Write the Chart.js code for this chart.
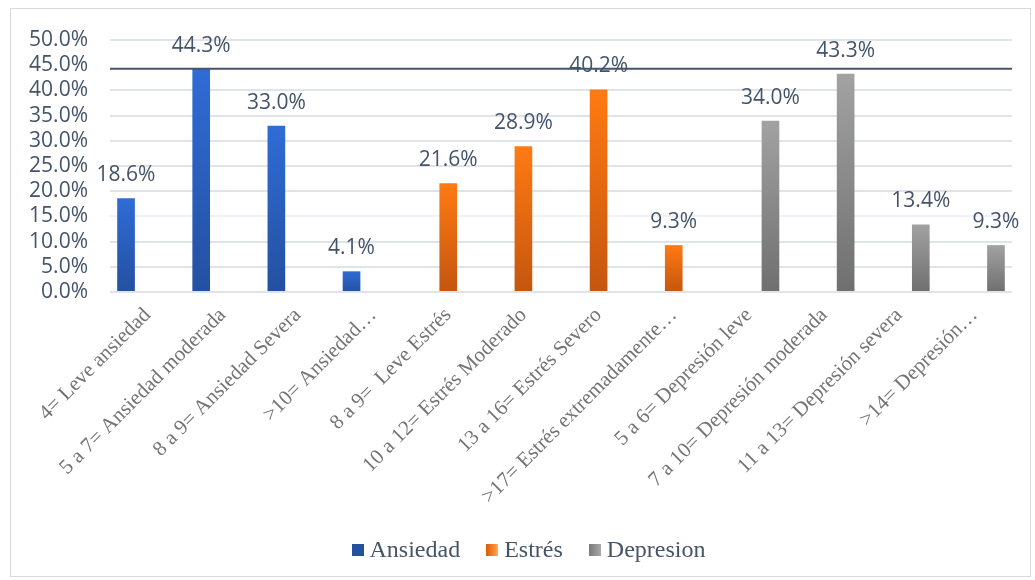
<!DOCTYPE html>
<html>
<head>
<meta charset="utf-8">
<script src="https://cdn.jsdelivr.net/npm/chart.js@4/dist/chart.umd.min.js"></script>
<style>
  html, body { margin: 0; padding: 0; background: #fff; }
  #wrap { width: 1035px; height: 580px; position: relative; }
  #legend {
    position: absolute; left: 0; right: 0; top: 533px; padding-left: 22px;
    text-align: center; font-family: "Liberation Serif", serif; font-size: 24px;
    color: #44546a; line-height: 32px; white-space: nowrap;
  }
  #legend span.item { display: inline-block; margin: 0 13px; }
  #legend span.box { display: inline-block; width: 12px; height: 12px; margin-right: 6px; vertical-align: 1px; }
</style>
</head>
<body>
<div id="wrap"><canvas id="chart"></canvas><div id="legend"></div></div>
<script>
const categories = [
    '4= Leve ansiedad', '5 a 7= Ansiedad moderada', '8 a 9= Ansiedad Severa', '>10= Ansiedad…',
    '8 a 9=  Leve Estrés', '10 a 12= Estrés Moderado', '13 a 16= Estrés Severo', '>17= Estrés extremadamente…',
    '5 a 6= Depresión leve', '7 a 10= Depresión moderada', '11 a 13= Depresión severa', '>14= Depresión…'
];
const ansiedad = [18.6, 44.3, 33.0, 4.1, null, null, null, null, null, null, null, null];
const estres = [null, null, null, null, 21.6, 28.9, 40.2, 9.3, null, null, null, null];
const depresion = [null, null, null, null, null, null, null, null, 34.0, 43.3, 13.4, 9.3];
const seriesNames = ['Ansiedad', 'Estrés', 'Depresion'];
const refLine = 44.3;   // dark horizontal line drawn across the plot

const textColor = '#44546a';
const barColors = [
    ['#2f6cd6', '#2450a0'],
    ['#ff7a12', '#c4560f'],
    ['#a2a2a2', '#6f6f6f'],
];

// vertical gradient per bar, lighter at the top
function barFill(top, bottom) {
    return function(context) {
        const chart = context.chart;
        const v = context.raw;
        if (!chart.chartArea || v == null || context.type !== 'data') {
            return bottom;
        }
        const y = chart.scales.y;
        const g = chart.ctx.createLinearGradient(0, y.getPixelForValue(v), 0, y.getPixelForValue(0));
        g.addColorStop(0, top);
        g.addColorStop(1, bottom);
        return g;
    };
}

const frame = {
    id: 'frame',
    beforeDraw(chart) {
        const c = chart.ctx;
        c.save();
        c.strokeStyle = '#d9d9d9';
        c.lineWidth = 1;
        c.strokeRect(10.5, 8.5, 1020, 568);
        c.restore();
    }
};

const valueLabels = {
    id: 'valueLabels',
    afterDraw(chart) {
        const c = chart.ctx;
        const area = chart.chartArea;
        const yy = chart.scales.y.getPixelForValue(refLine);
        c.save();
        c.strokeStyle = textColor;
        c.lineWidth = 2;
        c.beginPath();
        c.moveTo(area.left, yy);
        c.lineTo(area.right, yy);
        c.stroke();

        c.font = '21px "Open Sans"';
        c.fillStyle = textColor;
        c.textAlign = 'center';
        c.textBaseline = 'middle';
        chart.data.datasets.forEach((ds, i) => {
            const meta = chart.getDatasetMeta(i);
            meta.data.forEach((bar, j) => {
                const v = ds.data[j];
                if (v == null) return;
                c.fillText(v.toFixed(1) + '%', bar.x, bar.y - 23);
            });
        });
        c.restore();
    }
};

const ctx = document.getElementById('chart').getContext('2d');
const chart = new Chart(ctx, {
    type: 'bar',
    plugins: [frame, valueLabels],
    data: {
        labels: categories,
        datasets: [ansiedad, estres, depresion].map((d, i) => ({
            label: seriesNames[i],
            data: d,
            backgroundColor: barFill(barColors[i][0], barColors[i][1]),
            categoryPercentage: 0.86,
            barPercentage: 0.82,
        })),
    },
    options: {
        responsive: true,
        maintainAspectRatio: false,
        animation: false,
        layout: {
            padding: { left: 12, right: 23, top: 40, bottom: 50 }
        },
        scales: {
            x: {
                grid: { display: false },
                border: { display: false },
                ticks: {
                    maxRotation: 45,
                    minRotation: 45,
                    autoSkip: false,
                    padding: 3,
                    color: '#747474',
                    font: { family: '"Liberation Serif"', size: 21 },
                },
                afterFit: function(scale) {
                    scale.height = 238;
                },
            },
            y: {
                min: 0,
                max: 50,
                z: 1,
                border: { display: false },
                grid: {
                    drawTicks: false,
                    lineWidth: 2,
                    color: function(context) {
                        if (!context.tick) return '#e0e3ea';
                        if (context.tick.value === 45) return 'rgba(0, 0, 0, 0)';
                        if (context.tick.value === 15) return 'rgba(238, 240, 245, 0.95)';
                        return 'rgba(220, 224, 232, 0.9)';
                    },
                },
                ticks: {
                    stepSize: 5,
                    autoSkip: false,
                    padding: 22,
                    color: textColor,
                    font: { family: '"Open Sans"', size: 21 },
                    callback: function(value) {
                        return value.toFixed(1) + '%';
                    },
                },
                afterFit: function(scale) {
                    scale.width = 98;
                },
            },
        },
        plugins: {
            legend: { display: false },
            tooltip: { enabled: false },
        },
    },
});

// legend as plain html text under the chart
const legendBoxes = [
    '#2450a0',
    'linear-gradient(to right, #d25c0c, #ff8a30 70%, #ffb070)',
    'linear-gradient(to right, #7a7a7a, #a8a8a8)',
];
document.getElementById('legend').innerHTML = seriesNames.map((n, i) =>
    '<span class="item"><span class="box" style="background:' + legendBoxes[i] + '"></span>' + n + '</span>'
).join('');
</script>
</body>
</html>
